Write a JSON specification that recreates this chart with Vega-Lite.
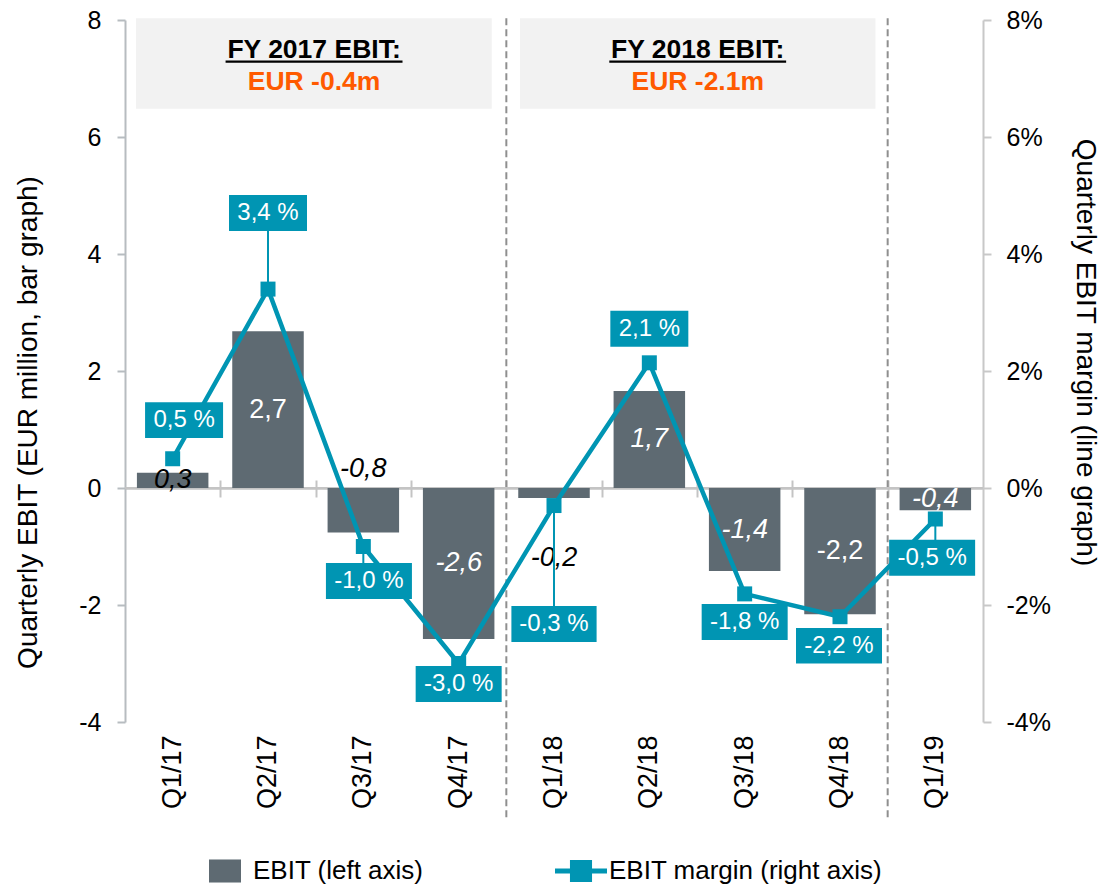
{
  "$schema": "https://vega.github.io/schema/vega-lite/v6.json",
  "width": 858,
  "height": 702,
  "autosize": "none",
  "padding": {"left": 125, "top": 20, "right": 119, "bottom": 166},
  "background": "white",
  "datasets": {
    "quarters": [
      {"q": "Q1/17", "ebit": 0.26, "margin": 0.5},
      {"q": "Q2/17", "ebit": 2.68, "margin": 3.4},
      {"q": "Q3/17", "ebit": -0.76, "margin": -1.0},
      {"q": "Q4/17", "ebit": -2.58, "margin": -3.0},
      {"q": "Q1/18", "ebit": -0.17, "margin": -0.3},
      {"q": "Q2/18", "ebit": 1.66, "margin": 2.14},
      {"q": "Q3/18", "ebit": -1.42, "margin": -1.81},
      {"q": "Q4/18", "ebit": -2.16, "margin": -2.2},
      {"q": "Q1/19", "ebit": -0.38, "margin": -0.53}
    ]
  },
  "data": {"name": "quarters"},
  "layer": [
    {
      "data": {"values": [{"k": 1}]},
      "layer": [
        {"mark": {"type": "rect", "color": "#f2f2f2"},
         "encoding": {
           "x": {"datum": 0.115, "type": "quantitative", "scale": {"domain": [0, 9], "nice": false, "zero": false}, "axis": null},
           "x2": {"datum": 3.847},
           "y": {"datum": 8.03, "type": "quantitative", "scale": {"domain": [-4, 8], "nice": false, "zero": false}, "axis": null},
           "y2": {"datum": 6.484}}},
        {"mark": {"type": "rect", "color": "#f2f2f2"},
         "encoding": {
           "x": {"datum": 4.1435, "type": "quantitative", "axis": null},
           "x2": {"datum": 7.872},
           "y": {"datum": 8.03, "type": "quantitative", "axis": null},
           "y2": {"datum": 6.484}}},
        {"mark": {"type": "text", "fontSize": 26.5, "fontWeight": "bold", "color": "black", "align": "center", "baseline": "alphabetic"},
         "encoding": {
           "x": {"datum": 1.983, "type": "quantitative", "axis": null},
           "y": {"datum": 7.345, "type": "quantitative", "axis": null},
           "text": {"value": "FY 2017 EBIT:"}}},
        {"mark": {"type": "text", "fontSize": 26.5, "fontWeight": "bold", "color": "#ff5a00", "align": "center", "baseline": "alphabetic"},
         "encoding": {
           "x": {"datum": 1.983, "type": "quantitative", "axis": null},
           "y": {"datum": 6.803, "type": "quantitative", "axis": null},
           "text": {"value": "EUR -0.4m"}}},
        {"mark": {"type": "text", "fontSize": 26.5, "fontWeight": "bold", "color": "black", "align": "center", "baseline": "alphabetic"},
         "encoding": {
           "x": {"datum": 6.008, "type": "quantitative", "axis": null},
           "y": {"datum": 7.345, "type": "quantitative", "axis": null},
           "text": {"value": "FY 2018 EBIT:"}}},
        {"mark": {"type": "text", "fontSize": 26.5, "fontWeight": "bold", "color": "#ff5a00", "align": "center", "baseline": "alphabetic"},
         "encoding": {
           "x": {"datum": 6.008, "type": "quantitative", "axis": null},
           "y": {"datum": 6.803, "type": "quantitative", "axis": null},
           "text": {"value": "EUR -2.1m"}}},
        {"mark": {"type": "rule", "color": "black", "strokeWidth": 2.2},
         "encoding": {
           "x": {"datum": 1.055, "type": "quantitative", "axis": null},
           "x2": {"datum": 2.911},
           "y": {"datum": 7.287, "type": "quantitative", "axis": null}}},
        {"mark": {"type": "rule", "color": "black", "strokeWidth": 2.2},
         "encoding": {
           "x": {"datum": 5.08, "type": "quantitative", "axis": null},
           "x2": {"datum": 6.935},
           "y": {"datum": 7.287, "type": "quantitative", "axis": null}}},
        {"mark": {"type": "rule", "color": "#8f8f8f", "strokeWidth": 2, "strokeDash": [7, 4]},
         "encoding": {
           "x": {"datum": 4, "type": "quantitative", "axis": null},
           "y": {"datum": 8.03, "type": "quantitative", "axis": null},
           "y2": {"datum": -5.64}}},
        {"mark": {"type": "rule", "color": "#8f8f8f", "strokeWidth": 2, "strokeDash": [7, 4]},
         "encoding": {
           "x": {"datum": 8, "type": "quantitative", "axis": null},
           "y": {"datum": 8.03, "type": "quantitative", "axis": null},
           "y2": {"datum": -5.64}}}
      ]
    },
    {
      "data": {"values": [{"k": 1}]},
      "mark": {"type": "rule", "color": "#c4c4c4", "strokeWidth": 2},
      "encoding": {
        "x": {"datum": 0.001, "type": "quantitative", "scale": {"domain": [0, 9], "nice": false, "zero": false},
              "axis": {"orient": "bottom", "values": [1, 2, 3, 4, 5, 6, 7, 8], "offset": -242, "labels": false, "domain": false, "grid": false, "title": null,
                       "ticks": true, "tickSize": 17, "tickColor": "#c4c4c4", "tickWidth": 2}},
        "x2": {"datum": 8.999},
        "y": {"datum": 0.001, "type": "quantitative", "scale": {"domain": [-4, 8], "nice": false, "zero": false}, "axis": null}
      }
    },
    {
      "mark": {"type": "bar"},
      "encoding": {
        "x": {"field": "q", "type": "nominal", "sort": null,
              "scale": {"type": "band", "domain": ["Q1/17","Q2/17","Q3/17","Q4/17","Q1/18","Q2/18","Q3/18","Q4/18","Q1/19"], "paddingInner": 0.25, "paddingOuter": 0.125},
              "axis": {"orient": "bottom", "title": null, "labelAngle": -90, "labelFontSize": 27, "labelColor": "black", "domain": false, "ticks": false, "labelPadding": 13, "grid": false}},
        "y": {"field": "ebit", "type": "quantitative",
              "scale": {"domain": [-4, 8], "nice": false, "zero": false},
              "axis": {"orient": "left", "values": [-4, -2, 0, 2, 4, 6, 8], "title": "Quarterly EBIT (EUR million, bar graph)",
                       "titleFontSize": 28, "titleFontWeight": "normal", "titleColor": "black", "titleY": 402, "titlePadding": 36,
                       "grid": true, "gridColor": "#c4c4c4", "gridWidth": 2,
                       "gridOpacity": {"condition": {"test": "datum.value === 0", "value": 1}, "value": 0},
                       "domainColor": "#b7bcc0", "domainWidth": 2, "tickColor": "#b7bcc0", "tickWidth": 2, "tickSize": 8,
                       "labelFontSize": 25, "labelColor": "black", "labelPadding": 16, "labelFlush": false, "labelOverlap": false}},
        "color": {"datum": "EBIT (left axis)",
                  "scale": {"domain": ["EBIT (left axis)", "EBIT margin (right axis)"], "range": ["#5e6a72", "#0095b3"]},
                  "legend": {"orient": "none", "legendX": 84, "legendY": 835, "direction": "horizontal", "title": null,
                             "labelFontSize": 26, "labelColor": "black", "labelLimit": 0, "symbolSize": 1024, "labelOffset": 12, "columnPadding": 131, "padding": 0,
                             "symbolType": "square",
                             "encode": {"symbols": {"update": {
                               "shape": {"signal": "datum.value === 'EBIT (left axis)' ? 'M-1,-0.72H1V0.72H-1Z' : 'M-1.625,-0.16H1.625V0.16H-1.625Z M-0.69,-0.69H0.69V0.69H-0.69Z'"},
                               "fill": {"scale": "color", "field": "value"},
                               "strokeWidth": {"value": 0},
                               "opacity": {"value": 1}}}}}}
      }
    },
    {
      "encoding": {
        "x": {"field": "q", "type": "nominal", "sort": null,
              "scale": {"type": "band", "domain": ["Q1/17","Q2/17","Q3/17","Q4/17","Q1/18","Q2/18","Q3/18","Q4/18","Q1/19"], "paddingInner": 0.25, "paddingOuter": 0.125},
              "axis": {"orient": "bottom", "offset": -234, "labels": false, "ticks": false, "grid": false, "title": null,
                       "domain": true, "domainColor": "#c4c4c4", "domainWidth": 2}},
        "y": {"field": "ebit", "type": "quantitative", "scale": {"domain": [-8, 16], "nice": false, "zero": false}, "axis": null},
        "text": {"field": "ebit", "type": "quantitative", "format": ".1f"}
      },
      "layer": [
        {"transform": [{"filter": {"field": "q", "oneOf": ["Q1/17", "Q4/17", "Q2/18", "Q3/18", "Q1/19"]}}],
         "mark": {"type": "text", "fontSize": 27, "fontStyle": "italic", "baseline": "middle", "align": "center"},
         "encoding": {"color": {"condition": {"test": "datum.q == 'Q1/17'", "value": "black"}, "value": "white"}}},
        {"transform": [{"filter": {"field": "q", "oneOf": ["Q2/17", "Q4/18"]}}],
         "mark": {"type": "text", "fontSize": 27, "baseline": "middle", "align": "center", "color": "white"}},
        {"transform": [{"filter": {"field": "q", "equal": "Q3/17"}}],
         "mark": {"type": "text", "fontSize": 27, "fontStyle": "italic", "baseline": "middle", "align": "center", "color": "black", "dy": -41}},
        {"transform": [{"filter": {"field": "q", "equal": "Q1/18"}}],
         "mark": {"type": "text", "fontSize": 27, "fontStyle": "italic", "baseline": "middle", "align": "center", "color": "black", "dy": 65}}
      ]
    },
    {
      "encoding": {
        "x": {"field": "q", "type": "nominal", "sort": null, "scale": {"domain": ["Q1/17","Q2/17","Q3/17","Q4/17","Q1/18","Q2/18","Q3/18","Q4/18","Q1/19"]}, "axis": null},
        "y": {"field": "margin", "type": "quantitative",
              "scale": {"domain": [-4, 8], "nice": false, "zero": false},
              "axis": {"orient": "right", "values": [-4, -2, 0, 2, 4, 6, 8], "labelExpr": "datum.value + '%'",
                       "title": "Quarterly EBIT margin (line graph)", "titleFontSize": 28, "titleFontWeight": "normal", "titleColor": "black",
                       "titleY": 332, "titlePadding": 20, "grid": false,
                       "domainColor": "#c8c8c8", "domainWidth": 2, "tickColor": "#c8c8c8", "tickWidth": 2, "tickSize": 8,
                       "labelFontSize": 25, "labelColor": "black", "labelPadding": 15, "labelFlush": false, "labelOverlap": false}}
      },
      "layer": [
        {"mark": {"type": "line", "strokeWidth": 4.5},
         "encoding": {"color": {"datum": "EBIT margin (right axis)"}}},
        {"mark": {"type": "point", "shape": "square", "size": 225, "filled": true, "opacity": 1, "color": "#0095b3", "strokeWidth": 0}},
        {"mark": {"type": "point", "size": 6400, "filled": true, "opacity": 1, "color": "#0095b3", "strokeWidth": 0},
         "encoding": {"shape": {"condition": [
           {"test": "datum.q == 'Q1/17'", "value": "M-0.69,-1.41H1.26V-0.52H-0.69Z"},
           {"test": "datum.q == 'Q2/17'", "value": "M-0.975,-2.35H0.975V-1.45H-0.975Z M-0.025,-1.46H0.025V0H-0.025Z"},
           {"test": "datum.q == 'Q3/17'", "value": "M-0.935,0.41H1.215V1.31H-0.935Z M-0.025,0H0.025V0.42H-0.025Z"},
           {"test": "datum.q == 'Q4/17'", "value": "M-1.075,0.06H1.075V0.96H-1.075Z"},
           {"test": "datum.q == 'Q1/18'", "value": "M-1.065,2.51H1.065V3.41H-1.065Z M-0.025,0H0.025V2.52H-0.025Z"},
           {"test": "datum.q == 'Q2/18'", "value": "M-0.975,-1.3H0.975V-0.4H-0.975Z"},
           {"test": "datum.q == 'Q3/18'", "value": "M-1.075,0.25H1.075V1.15H-1.075Z"},
           {"test": "datum.q == 'Q4/18'", "value": "M-1.1,0.28H1.05V1.17H-1.1Z"}
         ], "value": "M-1.155,0.52H0.995V1.42H-1.155Z M-0.025,0H0.025V0.53H-0.025Z"}}},
        {"transform": [{"filter": {"field": "q", "equal": "Q1/17"}}],
         "mark": {"type": "text", "fontSize": 24, "color": "white", "baseline": "middle", "align": "center", "dx": 11.4, "dy": -38.6},
         "encoding": {"text": {"field": "margin", "type": "quantitative", "format": "$.1f"}}},
        {"transform": [{"filter": {"field": "q", "equal": "Q2/17"}}],
         "mark": {"type": "text", "fontSize": 24, "color": "white", "baseline": "middle", "align": "center", "dy": -76},
         "encoding": {"text": {"field": "margin", "type": "quantitative", "format": "$.1f"}}},
        {"transform": [{"filter": {"field": "q", "equal": "Q3/17"}}],
         "mark": {"type": "text", "fontSize": 24, "color": "white", "baseline": "middle", "align": "center", "dx": 5.6, "dy": 34.4},
         "encoding": {"text": {"field": "margin", "type": "quantitative", "format": "$.1f"}}},
        {"transform": [{"filter": {"field": "q", "equal": "Q4/17"}}],
         "mark": {"type": "text", "fontSize": 24, "color": "white", "baseline": "middle", "align": "center", "dy": 20.4},
         "encoding": {"text": {"field": "margin", "type": "quantitative", "format": "$.1f"}}},
        {"transform": [{"filter": {"field": "q", "equal": "Q1/18"}}],
         "mark": {"type": "text", "fontSize": 24, "color": "white", "baseline": "middle", "align": "center", "dy": 118.4},
         "encoding": {"text": {"field": "margin", "type": "quantitative", "format": "$.1f"}}},
        {"transform": [{"filter": {"field": "q", "equal": "Q2/18"}}],
         "mark": {"type": "text", "fontSize": 24, "color": "white", "baseline": "middle", "align": "center", "dy": -34},
         "encoding": {"text": {"field": "margin", "type": "quantitative", "format": "$.1f"}}},
        {"transform": [{"filter": {"field": "q", "equal": "Q3/18"}}],
         "mark": {"type": "text", "fontSize": 24, "color": "white", "baseline": "middle", "align": "center", "dy": 28},
         "encoding": {"text": {"field": "margin", "type": "quantitative", "format": "$.1f"}}},
        {"transform": [{"filter": {"field": "q", "equal": "Q4/18"}}],
         "mark": {"type": "text", "fontSize": 24, "color": "white", "baseline": "middle", "align": "center", "dx": -1, "dy": 29},
         "encoding": {"text": {"field": "margin", "type": "quantitative", "format": "$.1f"}}},
        {"transform": [{"filter": {"field": "q", "equal": "Q1/19"}}],
         "mark": {"type": "text", "fontSize": 24, "color": "white", "baseline": "middle", "align": "center", "dx": -3.2, "dy": 38.8},
         "encoding": {"text": {"field": "margin", "type": "quantitative", "format": "$.1f"}}}
      ]
    }
  ],
  "resolve": {"scale": {"x": "independent", "y": "independent"}, "axis": {"x": "independent", "y": "independent"}},
  "config": {
    "font": "Liberation Sans",
    "view": {"stroke": null},
    "locale": {"number": {"decimal": ",", "thousands": ".", "grouping": [3], "currency": ["", " %"], "minus": "-"}}
  }
}
